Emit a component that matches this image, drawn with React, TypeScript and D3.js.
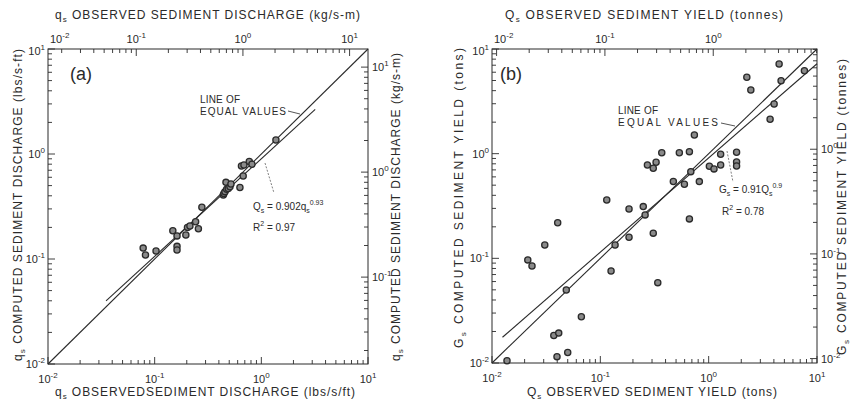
import React from "react";
import * as d3 from "d3";

const W = 850;
const H = 405;

// panel (a): sediment discharge, lbs/s/ft
const qsObserved = [0.078, 0.082, 0.103, 0.148, 0.162, 0.162, 0.162, 0.196, 0.203, 0.214, 0.242, 0.257, 0.277, 0.44, 0.446, 0.456, 0.473, 0.466, 0.49, 0.508, 0.519, 0.63, 0.676, 0.651, 0.687, 0.771, 0.817, 1.37];
const qsComputed = [0.127, 0.109, 0.119, 0.186, 0.166, 0.132, 0.122, 0.169, 0.2, 0.206, 0.226, 0.194, 0.311, 0.407, 0.42, 0.438, 0.461, 0.537, 0.47, 0.488, 0.518, 0.48, 0.617, 0.769, 0.786, 0.848, 0.798, 1.36];

// panel (b): sediment yield, tons
const gsObserved = [0.01375, 0.0398, 0.05, 0.0372, 0.0413, 0.0668, 0.0485, 0.0234, 0.0214, 0.0307, 0.0404, 0.1146, 0.1256, 0.1368, 0.184, 0.184, 0.249, 0.259, 0.308, 0.339, 0.272, 0.327, 0.308, 0.369, 0.536, 0.664, 0.738, 0.472, 0.597, 0.684, 0.82, 0.664, 1.015, 1.12, 1.29, 1.29, 1.81, 1.81, 1.81, 2.25, 2.45, 3.69, 4.02, 4.47, 4.66, 7.65];
const gsComputed = [0.0105, 0.0115, 0.0126, 0.0183, 0.0193, 0.0277, 0.0499, 0.0846, 0.0966, 0.134, 0.219, 0.361, 0.0758, 0.134, 0.296, 0.159, 0.312, 0.26, 0.174, 0.0586, 0.78, 0.828, 0.726, 1.02, 1.02, 1.045, 1.51, 0.542, 0.51, 0.673, 0.541, 0.238, 0.758, 0.715, 0.78, 0.987, 1.03, 0.833, 0.763, 5.37, 4.06, 2.13, 2.98, 7.19, 4.98, 6.2];

// regression lines  y = a * x^b, drawn between from..to
const fitA = { a: 0.902, b: 0.93, from: 0.035, to: 3.2 };
const fitB = { a: 0.91, b: 0.9, from: 0.0125, to: 10 };

const axisDomain = [0.01, 10];
const labelExps = [-2, -1, 0, 1];
const KG_PER_LB = 1.488; // lbs/s/ft -> kg/s-m
const TONNE_PER_TON = 0.9072;

const INK = "#2a2a2a";
const FONT = "'Liberation Sans', 'DejaVu Sans', sans-serif";

function logTicks(lo: number, hi: number) {
  const out: { v: number; major: boolean }[] = [];
  for (let e = Math.floor(Math.log10(lo)); e <= Math.ceil(Math.log10(hi)); e++) {
    for (let m = 1; m <= 9; m++) {
      const v = m * Math.pow(10, e);
      if (v >= lo * 0.999 && v <= hi * 1.001) out.push({ v, major: m === 1 });
    }
  }
  return out;
}

function Pow({ x, y, exp, anchor = "middle" }: { x: number; y: number; exp: number; anchor?: string }) {
  return (
    <text x={x} y={y} textAnchor={anchor} fontSize={11} fill={INK}>
      10<tspan dy={-5} fontSize={8}>{exp}</tspan>
    </text>
  );
}

type PanelProps = {
  x0: number; x1: number; y0: number; y1: number;
  factor: number;
  obs: number[]; comp: number[];
  fit: { a: number; b: number; from: number; to: number };
};

function Panel({ x0, x1, y0, y1, factor, obs, comp, fit }: PanelProps) {
  const x = d3.scaleLog().domain(axisDomain).range([x0, x1]);
  const y = d3.scaleLog().domain(axisDomain).range([y1, y0]);
  const sec = [axisDomain[0] * factor, axisDomain[1] * factor];
  const xTop = d3.scaleLog().domain(sec).range([x0, x1]).clamp(true);
  const yRight = d3.scaleLog().domain(sec).range([y1, y0]);

  const main = logTicks(axisDomain[0], axisDomain[1]);
  const second = logTicks(sec[0], sec[1]);
  const line = d3.line<number[]>().x((d) => x(d[0])).y((d) => y(d[1]));
  const fitPts = [fit.from, fit.to].map((v) => [v, fit.a * Math.pow(v, fit.b)]);

  return (
    <g>
      <rect x={x0} y={y0} width={x1 - x0} height={y1 - y0} fill="none" stroke={INK} strokeWidth={1} />
      {main.map((t, i) => (
        <g key={"m" + i} stroke={INK} strokeWidth={0.9}>
          <line x1={x(t.v)} x2={x(t.v)} y1={y1} y2={y1 - (t.major ? 7 : 4)} />
          <line x1={x0} x2={x0 + (t.major ? 7 : 4)} y1={y(t.v)} y2={y(t.v)} />
        </g>
      ))}
      {second.map((t, i) => (
        <g key={"s" + i} stroke={INK} strokeWidth={0.9}>
          <line x1={xTop(t.v)} x2={xTop(t.v)} y1={y0} y2={y0 + (t.major ? 7 : 4)} />
          <line x1={x1} x2={x1 - (t.major ? 7 : 4)} y1={yRight(t.v)} y2={yRight(t.v)} />
        </g>
      ))}
      {labelExps.map((e) => {
        const v = Math.pow(10, e);
        const tx = xTop(v);
        const nearEdge = tx - x0 < 10;
        return (
          <g key={"l" + e}>
            <Pow x={x(v)} y={y1 + 19} exp={e} />
            <Pow x={x0 - 3} y={y(v) + (e === 1 ? 6 : 4)} exp={e} anchor="end" />
            {v <= sec[1] && (
              <Pow x={nearEdge ? x0 + 2 : tx} y={y0 - 6} exp={e} anchor={nearEdge ? "start" : "middle"} />
            )}
            {v >= sec[0] && v <= sec[1] && (
              <Pow x={x1 + 4} y={yRight(v) + 4} exp={e} anchor="start" />
            )}
          </g>
        );
      })}
      <path d={line([[axisDomain[0], axisDomain[0]], [axisDomain[1], axisDomain[1]]]) || ""} stroke={INK} strokeWidth={1.1} fill="none" />
      <path d={line(fitPts) || ""} stroke={INK} strokeWidth={1.1} fill="none" />
      {obs.map((v, i) => (
        <circle key={"p" + i} cx={x(v)} cy={y(comp[i])} r={3.1} fill="#8a8a8a" stroke={INK} strokeWidth={1.3} />
      ))}
    </g>
  );
}

function VTitle({ x, y, len, sym, rest }: { x: number; y: number; len: number; sym: string; rest: string }) {
  return (
    <text transform={`translate(${x},${y}) rotate(-90)`} textAnchor="middle" fontSize={12} fill={INK} textLength={len} lengthAdjust="spacing">
      {sym}<tspan dy={3} fontSize={8}>s</tspan><tspan dy={-3}>{rest}</tspan>
    </text>
  );
}

function HTitle({ x, y, len, sym, rest }: { x: number; y: number; len: number; sym: string; rest: string }) {
  return (
    <text x={x} y={y} fontSize={12} fill={INK} textLength={len} lengthAdjust="spacing">
      {sym}<tspan dy={3} fontSize={8}>s</tspan><tspan dy={-3}>{rest}</tspan>
    </text>
  );
}

export default function App() {
  return (
    <svg width={W} height={H} style={{ position: "absolute", left: 0, top: 0, background: "#fff" }} fontFamily={FONT}>
      <Panel x0={48} x1={368} y0={49} y1={364} factor={KG_PER_LB} obs={qsObserved} comp={qsComputed} fit={fitA} />
      <Panel x0={492} x1={817} y0={49} y1={363} factor={TONNE_PER_TON} obs={gsObserved} comp={gsComputed} fit={fitB} />

      {/* panel (a) titles */}
      <HTitle x={55} y={19} len={305} sym="q" rest=" OBSERVED SEDIMENT DISCHARGE (kg/s-m)" />
      <HTitle x={55} y={396} len={300} sym="q" rest=" OBSERVEDSEDIMENT DISCHARGE (lbs/s/ft)" />
      <VTitle x={22} y={205} len={312} sym="q" rest=" COMPUTED SEDIMENT DISCHARGE (lbs/s-ft)" />
      <VTitle x={400} y={207} len={308} sym="q" rest=" COMPUTED SEDIMENT DISCHARGE (kg/s-m)" />

      {/* panel (b) titles */}
      <HTitle x={505} y={19} len={278} sym="Q" rest=" OBSERVED SEDIMENT YIELD (tonnes)" />
      <HTitle x={527} y={396} len={250} sym="Q" rest=" OBSERVED SEDIMENT YIELD (tons)" />
      <VTitle x={463} y={198} len={300} sym="G" rest=" COMPUTED SEDIMENT YIELD (tons)" />
      <VTitle x={846} y={207} len={296} sym="G" rest=" COMPUTED SEDIMENT YIELD (tonnes)" />

      {/* panel tags */}
      <text x={70} y={80} fontSize={18} fill={INK}>(a)</text>
      <text x={500} y={80} fontSize={18} fill={INK}>(b)</text>

      {/* panel (a) annotations */}
      <g fontSize={10} fill={INK}>
        <text x={200} y={103} textLength={40} lengthAdjust="spacing">LINE OF</text>
        <text x={200} y={115} textLength={86} lengthAdjust="spacing">EQUAL VALUES</text>
        <text x={253} y={210}>
          Q<tspan dy={3} fontSize={7}>s</tspan><tspan dy={-3}> = 0.902q</tspan><tspan dy={3} fontSize={7}>s</tspan><tspan dy={-8} fontSize={7}>0.93</tspan>
        </text>
        <text x={253} y={231}>
          R<tspan dy={-5} fontSize={7}>2</tspan><tspan dy={5}> = 0.97</tspan>
        </text>
      </g>
      <line x1={288} y1={111} x2={300} y2={114} stroke={INK} strokeWidth={0.8} />
      <line x1={265} y1={163} x2={274} y2={193} stroke={INK} strokeWidth={0.6} strokeDasharray="2,1.5" />

      {/* panel (b) annotations */}
      <g fontSize={10} fill={INK}>
        <text x={618} y={114} textLength={40} lengthAdjust="spacing">LINE OF</text>
        <text x={618} y={126} textLength={100} lengthAdjust="spacing">EQUAL VALUES</text>
        <text x={719} y={193}>
          G<tspan dy={3} fontSize={7}>s</tspan><tspan dy={-3}> = 0.91Q</tspan><tspan dy={3} fontSize={7}>s</tspan><tspan dy={-8} fontSize={7}>0.9</tspan>
        </text>
        <text x={722} y={215}>
          R<tspan dy={-5} fontSize={7}>2</tspan><tspan dy={5}> = 0.78</tspan>
        </text>
      </g>
      <line x1={721} y1={123} x2={735} y2={126} stroke={INK} strokeWidth={0.8} />
      <line x1={727} y1={151} x2={733} y2={182} stroke={INK} strokeWidth={0.6} strokeDasharray="2,1.5" />
    </svg>
  );
}
